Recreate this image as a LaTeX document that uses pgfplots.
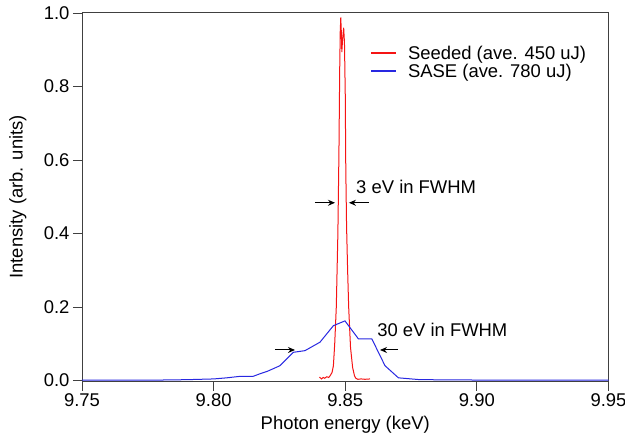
\documentclass[border=0pt]{standalone}
\usepackage{fontspec}
\setmainfont{Liberation Sans}
\usepackage{pgfplots}
\pgfplotsset{compat=1.18}
\usetikzlibrary{arrows.meta}

\pgfplotstableread{
x y
9.8402 0.009
9.8410 0.004
9.8416 0.008
9.8422 0.006
9.8430 0.010
9.8437 0.008
9.8443 0.013
9.8450 0.022
9.8455 0.040
9.8460 0.10
9.8466 0.20
9.8472 0.40
9.8476 0.62
9.8479 0.85
9.8481 0.95
9.8483 0.988
9.8485 0.95
9.8487 0.894
9.8490 0.93
9.8494 0.960
9.8497 0.92
9.8500 0.78
9.8502 0.58
9.8505 0.42
9.8509 0.30
9.8513 0.20
9.8520 0.09
9.8528 0.035
9.8535 0.013
9.8540 0.006
9.8548 0.003
9.8560 0.004
9.8575 0.003
9.8594 0.004
}\seeded

\pgfplotstableread{
x y
9.750 0.001
9.780 0.001
9.790 0.002
9.800 0.004
9.805 0.007
9.810 0.011
9.815 0.011
9.8176 0.018
9.8205 0.025
9.8252 0.040
9.8303 0.0765
9.8347 0.081
9.8404 0.104
9.8455 0.149
9.8499 0.162
9.8550 0.113
9.8601 0.113
9.8651 0.040
9.8702 0.007
9.8784 0.002
9.900 0.001
9.950 0.001
}\sase

\definecolor{sasecol}{RGB}{40,40,225}
\definecolor{seedcol}{RGB}{245,20,20}

\begin{document}
\begin{tikzpicture}
\path[use as bounding box] (-82bp,-57.5bp) rectangle (543bp,381.5bp);
\begin{axis}[
  scale only axis,
  width=526.5bp, height=369.5bp,
  xmin=9.75, xmax=9.95, ymin=-0.003, ymax=1.003,
  axis line style={black!75, line width=0.8bp},
  font=\fontsize{18.5}{22}\selectfont,
  xtick={9.75,9.80,9.85,9.90,9.95},
  ytick={0,0.2,0.4,0.6,0.8,1.0},
  xticklabel style={/pgf/number format/.cd, fixed, fixed zerofill, precision=2},
  yticklabel style={/pgf/number format/.cd, fixed, fixed zerofill, precision=1},
  /pgf/number format/assume math mode=true,
  tick align=outside,
  major tick length=9bp,
  tick style={black!75, line width=0.8bp},
  xtick pos=bottom, ytick pos=left,
  minor tick num=0,
  scaled x ticks=false,
  xlabel={Photon energy (keV)},
  ylabel={Intensity (arb. units)},
  every axis x label/.style={at={(axis description cs:0.5,0)}, anchor=center, yshift=-43.5bp},
  every axis y label/.style={at={(axis description cs:-0.1216,0.5)}, anchor=center, rotate=90},
  legend style={draw=white, fill=white, at={(0.547,0.914)}, anchor=north west, inner sep=0pt, row sep=-1bp, font=\fontsize{18.5}{20}\selectfont},
  legend cell align=left,
]
\addplot[color=seedcol, line width=1bp,
  legend image code/.code={\draw[seedcol, line width=1.8bp] (0bp,0bp) -- (25bp,0bp); \path[draw=none] (0bp,0bp) -- (35bp,0bp);}] table {\seeded};
\addlegendentry{Seeded (ave. 450 uJ)}
\addplot[color=sasecol, line width=1bp,
  legend image code/.code={\draw[sasecol, line width=1.8bp] (0bp,0bp) -- (25bp,0bp); \path[draw=none] (0bp,0bp) -- (35bp,0bp);}] table {\sase};
\addlegendentry{SASE (ave. 780 uJ)}

\draw[-{Stealth[length=7bp,width=6bp]}, line width=1bp] (axis cs:9.8385,0.4836) -- (axis cs:9.8461,0.4836);
\draw[-{Stealth[length=7bp,width=6bp]}, line width=1bp] (axis cs:9.8590,0.4836) -- (axis cs:9.8514,0.4836);
\node[anchor=west, inner sep=0pt] at (axis cs:9.8541,0.528) {3 eV in FWHM};

\draw[-{Stealth[length=7bp,width=6bp]}, line width=1bp] (axis cs:9.8233,0.0828) -- (axis cs:9.8309,0.0828);
\draw[-{Stealth[length=7bp,width=6bp]}, line width=1bp] (axis cs:9.8701,0.0828) -- (axis cs:9.8632,0.0828);
\node[anchor=west, inner sep=0pt] at (axis cs:9.8621,0.137) {30 eV in FWHM};
\end{axis}
\end{tikzpicture}
\end{document}
